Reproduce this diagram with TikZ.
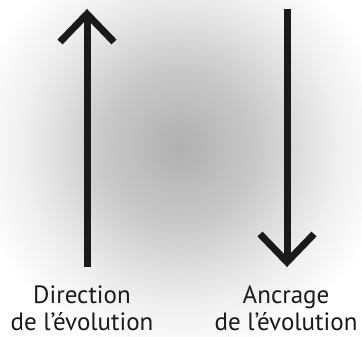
\documentclass[tikz,border=0pt]{standalone}
\usepackage{fontspec}
\setmainfont{PT Sans}
\definecolor{arrowink}{RGB}{26,26,26}
\pgfdeclareradialshading{haze}{\pgfpoint{0bp}{0bp}}{color(0bp)=(black!31); color(9.5bp)=(black!21); color(15bp)=(black!12); color(19bp)=(black!6); color(25bp)=(white); color(50bp)=(white)}

\begin{document}
\begin{tikzpicture}[x=1pt,y=-1pt,
    shaft/.style={line width=7pt,draw=arrowink},
    chevron/.style={line width=7pt,draw=arrowink,miter limit=4},
    caption/.style={font=\fontsize{25}{27}\selectfont,align=center,
      anchor=north,inner sep=0pt,text=arrowink}
  ]
  \useasboundingbox (0,0) rectangle (362,337);
  \clip (0,0) rectangle (362,337);
  \fill[white] (0,0) rectangle (362,337);
  \shade[shading=haze] (180,147) circle (210pt);

  % montante
  \coordinate (uptail) at (87,267);
  \coordinate (uptip) at (87,14);
  \coordinate (upleft) at (60,42);
  \coordinate (upright) at (114,42);
  \draw[shaft] (uptail) -- (uptip);
  \draw[chevron] (upleft) -- (uptip) -- (upright);

  % descendante
  \coordinate (downtail) at (287,9);
  \coordinate (downtip) at (287,262);
  \coordinate (downleft) at (260,234);
  \coordinate (downright) at (314,234);
  \draw[shaft] (downtail) -- (downtip);
  \draw[chevron] (downleft) -- (downtip) -- (downright);

  \node[caption] (direction) at (82,286) {Direction\\de l’évolution};
  \node[caption] (ancrage) at (286,286) {Ancrage\\de l’évolution};
\end{tikzpicture}
\end{document}
